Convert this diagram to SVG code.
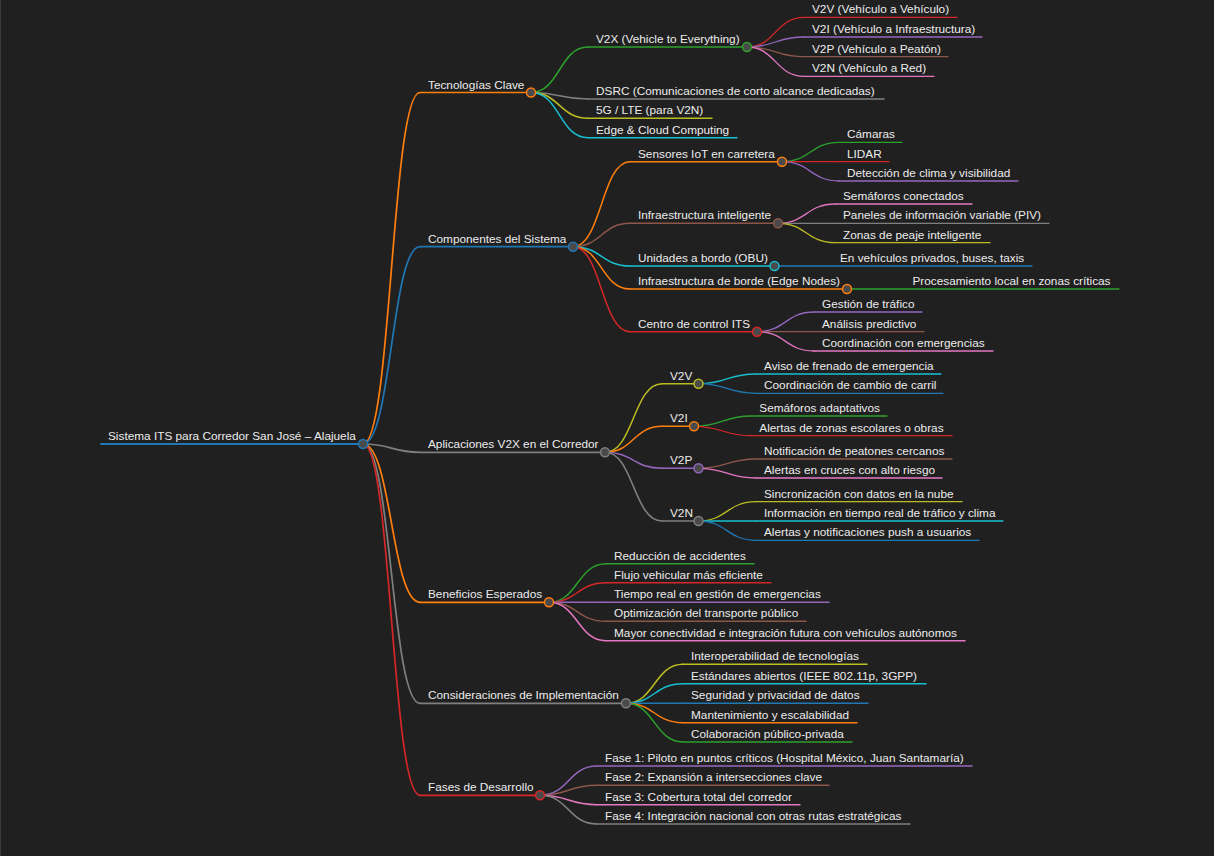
<svg xmlns="http://www.w3.org/2000/svg" width="1214" height="856" viewBox="0 0 1214 856">
<style>
text{font-family:"Liberation Sans",Arial,sans-serif;font-size:11.8px;fill:#ececec;transform:translate(0px,1px)}
path,line{fill:none;stroke-linecap:round}
circle{fill:#4a4a4a;stroke-width:1.5}
.l0{stroke-width:2}.l1{stroke-width:1.7}.l2{stroke-width:1.5}.l3{stroke-width:1.3}
.blue{stroke:#1f77b4}.orange{stroke:#ff7f0e}.green{stroke:#2ca02c}.red{stroke:#d62728}
.purple{stroke:#9467bd}.brown{stroke:#8c564b}.pink{stroke:#e377c2}.grey{stroke:#7f7f7f}
.olive{stroke:#bcbd22}.cyan{stroke:#17becf}
</style>
<rect width="1214" height="856" fill="#202020"/>
<line x1="0.5" y1="0" x2="0.5" y2="856" stroke="#3a3a3a" stroke-width="1"/>
<g id="connectors">
<path class="l1 orange" d="M363,444C391.5,444 391.5,92.5 420,92.5"/>
<path class="l1 blue" d="M363,444C391.5,444 391.5,246.7 420,246.7"/>
<path class="l1 grey" d="M363,444C391.5,444 391.5,452.3 420,452.3"/>
<path class="l1 orange" d="M363,444C391.5,444 391.5,602.3 420,602.3"/>
<path class="l1 grey" d="M363,444C391.5,444 391.5,703.3 420,703.3"/>
<path class="l1 red" d="M363,444C391.5,444 391.5,795.3 420,795.3"/>
<path class="l2 green" d="M531,92.5C559.5,92.5 559.5,47 588,47"/>
<path class="l2 grey" d="M531,92.5C559.5,92.5 559.5,99 588,99"/>
<path class="l2 olive" d="M531,92.5C559.5,92.5 559.5,118.3 588,118.3"/>
<path class="l2 cyan" d="M531,92.5C559.5,92.5 559.5,137.7 588,137.7"/>
<path class="l3 red" d="M747,47C775.5,47 775.5,17.3 804,17.3"/>
<path class="l3 purple" d="M747,47C775.5,47 775.5,37 804,37"/>
<path class="l3 brown" d="M747,47C775.5,47 775.5,56.7 804,56.7"/>
<path class="l3 pink" d="M747,47C775.5,47 775.5,76.3 804,76.3"/>
<path class="l2 orange" d="M573,246.7C601.5,246.7 601.5,161.7 630,161.7"/>
<path class="l2 brown" d="M573,246.7C601.5,246.7 601.5,223.3 630,223.3"/>
<path class="l2 cyan" d="M573,246.7C601.5,246.7 601.5,266 630,266"/>
<path class="l2 orange" d="M573,246.7C601.5,246.7 601.5,289 630,289"/>
<path class="l2 red" d="M573,246.7C601.5,246.7 601.5,331.7 630,331.7"/>
<path class="l3 green" d="M782,161.7C810.5,161.7 810.5,142.3 839,142.3"/>
<path class="l3 red" d="M782,161.7C810.5,161.7 810.5,161.7 839,161.7"/>
<path class="l3 purple" d="M782,161.7C810.5,161.7 810.5,181 839,181"/>
<path class="l3 pink" d="M778,223.3C806.5,223.3 806.5,204 835,204"/>
<path class="l3 grey" d="M778,223.3C806.5,223.3 806.5,223.3 835,223.3"/>
<path class="l3 olive" d="M778,223.3C806.5,223.3 806.5,242.7 835,242.7"/>
<path class="l3 blue" d="M774.5,266L831.5,266"/>
<path class="l3 green" d="M847,289L904,289"/>
<path class="l3 purple" d="M757,331.7C785.5,331.7 785.5,312 814,312"/>
<path class="l3 brown" d="M757,331.7C785.5,331.7 785.5,331.7 814,331.7"/>
<path class="l3 pink" d="M757,331.7C785.5,331.7 785.5,351 814,351"/>
<path class="l2 olive" d="M605,452.3C633.5,452.3 633.5,383.7 662,383.7"/>
<path class="l2 orange" d="M605,452.3C633.5,452.3 633.5,426.3 662,426.3"/>
<path class="l2 purple" d="M605,452.3C633.5,452.3 633.5,468.3 662,468.3"/>
<path class="l2 grey" d="M605,452.3C633.5,452.3 633.5,521 662,521"/>
<path class="l3 cyan" d="M698.5,383.7C727,383.7 727,374 756,374"/>
<path class="l3 blue" d="M698.5,383.7C727,383.7 727,393.3 756,393.3"/>
<path class="l3 green" d="M694,426.3C722.6,426.3 722.6,416 751.3,416"/>
<path class="l3 red" d="M694,426.3C722.6,426.3 722.6,435.7 751.3,435.7"/>
<path class="l3 brown" d="M698.5,468.3C727,468.3 727,459 756,459"/>
<path class="l3 pink" d="M698.5,468.3C727,468.3 727,478 756,478"/>
<path class="l3 olive" d="M698.5,521C727,521 727,501.7 756,501.7"/>
<path class="l3 cyan" d="M698.5,521L756,521"/>
<path class="l3 blue" d="M698.5,521C727,521 727,540.3 756,540.3"/>
<path class="l2 green" d="M549,602.3C577.5,602.3 577.5,563.7 606,563.7"/>
<path class="l2 red" d="M549,602.3C577.5,602.3 577.5,582.7 606,582.7"/>
<path class="l2 purple" d="M549,602.3L606,602.3"/>
<path class="l2 brown" d="M549,602.3C577.5,602.3 577.5,621.3 606,621.3"/>
<path class="l2 pink" d="M549,602.3C577.5,602.3 577.5,640.7 606,640.7"/>
<path class="l2 olive" d="M626,703.3C654.5,703.3 654.5,664.3 683,664.3"/>
<path class="l2 cyan" d="M626,703.3C654.5,703.3 654.5,683.7 683,683.7"/>
<path class="l2 blue" d="M626,703.3L683,703.3"/>
<path class="l2 orange" d="M626,703.3C654.5,703.3 654.5,722.7 683,722.7"/>
<path class="l2 green" d="M626,703.3C654.5,703.3 654.5,742 683,742"/>
<path class="l2 purple" d="M540,795.3C568.5,795.3 568.5,766 597,766"/>
<path class="l2 brown" d="M540,795.3C568.5,795.3 568.5,785.3 597,785.3"/>
<path class="l2 pink" d="M540,795.3C568.5,795.3 568.5,804.7 597,804.7"/>
<path class="l2 grey" d="M540,795.3C568.5,795.3 568.5,824 597,824"/>
</g>
<g id="root"><line class="l0 blue" x1="101" y1="444" x2="363" y2="444"/><text x="108" y="439">Sistema ITS para Corredor San José – Alajuela</text><circle class="blue" cx="363" cy="444" r="4.5"/></g>
<g id="tecnologias"><line class="l1 orange" x1="420" y1="92.5" x2="531" y2="92.5"/><text x="428" y="87.5">Tecnologías Clave</text><circle class="orange" cx="531" cy="92.5" r="4.5"/></g>
<g id="v2x"><line class="l2 green" x1="588" y1="47" x2="747" y2="47"/><text x="596" y="42">V2X (Vehicle to Everything)</text><circle class="green" cx="747" cy="47" r="4.5"/></g>
<g id="v2x-v2v"><line class="l3 red" x1="804" y1="17.3" x2="957" y2="17.3"/><text x="812" y="12.3">V2V (Vehículo a Vehículo)</text></g>
<g id="v2x-v2i"><line class="l3 purple" x1="804" y1="37" x2="982" y2="37"/><text x="812" y="32">V2I (Vehículo a Infraestructura)</text></g>
<g id="v2x-v2p"><line class="l3 brown" x1="804" y1="56.7" x2="948" y2="56.7"/><text x="812" y="51.7">V2P (Vehículo a Peatón)</text></g>
<g id="v2x-v2n"><line class="l3 pink" x1="804" y1="76.3" x2="934" y2="76.3"/><text x="812" y="71.3">V2N (Vehículo a Red)</text></g>
<g id="dsrc"><line class="l2 grey" x1="588" y1="99" x2="884" y2="99"/><text x="596" y="94">DSRC (Comunicaciones de corto alcance dedicadas)</text></g>
<g id="lte"><line class="l2 olive" x1="588" y1="118.3" x2="712" y2="118.3"/><text x="596" y="113.3">5G / LTE (para V2N)</text></g>
<g id="edgecloud"><line class="l2 cyan" x1="588" y1="137.7" x2="737" y2="137.7"/><text x="596" y="132.7">Edge &amp; Cloud Computing</text></g>
<g id="componentes"><line class="l1 blue" x1="420" y1="246.7" x2="573" y2="246.7"/><text x="428" y="241.7">Componentes del Sistema</text><circle class="blue" cx="573" cy="246.7" r="4.5"/></g>
<g id="sensores"><line class="l2 orange" x1="630" y1="161.7" x2="782" y2="161.7"/><text x="638" y="156.7">Sensores IoT en carretera</text><circle class="orange" cx="782" cy="161.7" r="4.5"/></g>
<g id="camaras"><line class="l3 green" x1="839" y1="142.3" x2="902" y2="142.3"/><text x="847" y="137.3">Cámaras</text></g>
<g id="lidar"><line class="l3 red" x1="839" y1="161.7" x2="889" y2="161.7"/><text x="847" y="156.7">LIDAR</text></g>
<g id="clima"><line class="l3 purple" x1="839" y1="181" x2="1018" y2="181"/><text x="847" y="176">Detección de clima y visibilidad</text></g>
<g id="infra"><line class="l2 brown" x1="630" y1="223.3" x2="778" y2="223.3"/><text x="638" y="218.3">Infraestructura inteligente</text><circle class="brown" cx="778" cy="223.3" r="4.5"/></g>
<g id="semaforos-con"><line class="l3 pink" x1="835" y1="204" x2="972" y2="204"/><text x="843" y="199">Semáforos conectados</text></g>
<g id="paneles"><line class="l3 grey" x1="835" y1="223.3" x2="1049" y2="223.3"/><text x="843" y="218.3">Paneles de información variable (PIV)</text></g>
<g id="peaje"><line class="l3 olive" x1="835" y1="242.7" x2="990" y2="242.7"/><text x="843" y="237.7">Zonas de peaje inteligente</text></g>
<g id="obu"><line class="l2 cyan" x1="630" y1="266" x2="774.5" y2="266"/><text x="638" y="261">Unidades a bordo (OBU)</text></g>
<g id="vehiculos"><line class="l3 blue" x1="831.5" y1="266" x2="1032" y2="266"/><text x="840" y="261">En vehículos privados, buses, taxis</text></g>
<g id="obu-c"><circle class="cyan" cx="774.5" cy="266" r="4.5"/></g>
<g id="edgenodes"><line class="l2 orange" x1="630" y1="289" x2="847" y2="289"/><text x="638" y="284">Infraestructura de borde (Edge Nodes)</text></g>
<g id="procesamiento"><line class="l3 green" x1="904" y1="289" x2="1119" y2="289"/><text x="912.5" y="284">Procesamiento local en zonas críticas</text></g>
<g id="edgenodes-c"><circle class="orange" cx="847" cy="289" r="4.5"/></g>
<g id="centro"><line class="l2 red" x1="630" y1="331.7" x2="757" y2="331.7"/><text x="638" y="326.7">Centro de control ITS</text><circle class="red" cx="757" cy="331.7" r="4.5"/></g>
<g id="gestion"><line class="l3 purple" x1="814" y1="312" x2="922" y2="312"/><text x="822" y="307">Gestión de tráfico</text></g>
<g id="analisis"><line class="l3 brown" x1="814" y1="331.7" x2="924" y2="331.7"/><text x="822" y="326.7">Análisis predictivo</text></g>
<g id="coordinacion"><line class="l3 pink" x1="814" y1="351" x2="993" y2="351"/><text x="822" y="346">Coordinación con emergencias</text></g>
<g id="aplicaciones"><line class="l1 grey" x1="420" y1="452.3" x2="605" y2="452.3"/><text x="428" y="447.3">Aplicaciones V2X en el Corredor</text><circle class="grey" cx="605" cy="452.3" r="4.5"/></g>
<g id="a-v2v"><line class="l2 olive" x1="662" y1="383.7" x2="698.5" y2="383.7"/><text x="670" y="378.7">V2V</text><circle class="olive" cx="698.5" cy="383.7" r="4.5"/></g>
<g id="aviso"><line class="l3 cyan" x1="756" y1="374" x2="941" y2="374"/><text x="764" y="369">Aviso de frenado de emergencia</text></g>
<g id="carril"><line class="l3 blue" x1="756" y1="393.3" x2="943" y2="393.3"/><text x="764" y="388.3">Coordinación de cambio de carril</text></g>
<g id="a-v2i"><line class="l2 orange" x1="662" y1="426.3" x2="694" y2="426.3"/><text x="670" y="421.3">V2I</text><circle class="orange" cx="694" cy="426.3" r="4.5"/></g>
<g id="sem-adapt"><line class="l3 green" x1="751.3" y1="416" x2="887" y2="416"/><text x="759.3" y="411">Semáforos adaptativos</text></g>
<g id="zonas-esc"><line class="l3 red" x1="751.3" y1="435.7" x2="952" y2="435.7"/><text x="759.3" y="430.7">Alertas de zonas escolares o obras</text></g>
<g id="a-v2p"><line class="l2 purple" x1="662" y1="468.3" x2="698.5" y2="468.3"/><text x="670" y="463.3">V2P</text><circle class="purple" cx="698.5" cy="468.3" r="4.5"/></g>
<g id="peatones"><line class="l3 brown" x1="756" y1="459" x2="952" y2="459"/><text x="764" y="454">Notificación de peatones cercanos</text></g>
<g id="cruces"><line class="l3 pink" x1="756" y1="478" x2="942" y2="478"/><text x="764" y="473">Alertas en cruces con alto riesgo</text></g>
<g id="a-v2n"><line class="l2 grey" x1="662" y1="521" x2="698.5" y2="521"/><text x="670" y="516">V2N</text></g>
<g id="sincronizacion"><line class="l3 olive" x1="756" y1="501.7" x2="962" y2="501.7"/><text x="764" y="496.7">Sincronización con datos en la nube</text></g>
<g id="informacion"><line class="l3 cyan" x1="756" y1="521" x2="1003" y2="521"/><text x="764" y="516">Información en tiempo real de tráfico y clima</text></g>
<g id="push"><line class="l3 blue" x1="756" y1="540.3" x2="979" y2="540.3"/><text x="764" y="535.3">Alertas y notificaciones push a usuarios</text></g>
<g id="a-v2n-c"><circle class="grey" cx="698.5" cy="521" r="4.5"/></g>
<g id="beneficios"><line class="l1 orange" x1="420" y1="602.3" x2="549" y2="602.3"/><text x="428" y="597.3">Beneficios Esperados</text></g>
<g id="reduccion"><line class="l2 green" x1="606" y1="563.7" x2="754" y2="563.7"/><text x="614" y="558.7">Reducción de accidentes</text></g>
<g id="flujo"><line class="l2 red" x1="606" y1="582.7" x2="771" y2="582.7"/><text x="614" y="577.7">Flujo vehicular más eficiente</text></g>
<g id="tiempo"><line class="l2 purple" x1="606" y1="602.3" x2="829" y2="602.3"/><text x="614" y="597.3">Tiempo real en gestión de emergencias</text></g>
<g id="optimizacion"><line class="l2 brown" x1="606" y1="621.3" x2="806" y2="621.3"/><text x="614" y="616.3">Optimización del transporte público</text></g>
<g id="mayor"><line class="l2 pink" x1="606" y1="640.7" x2="965" y2="640.7"/><text x="614" y="635.7">Mayor conectividad e integración futura con vehículos autónomos</text></g>
<g id="beneficios-c"><circle class="orange" cx="549" cy="602.3" r="4.5"/></g>
<g id="consideraciones"><line class="l1 grey" x1="420" y1="703.3" x2="626" y2="703.3"/><text x="428" y="698.3">Consideraciones de Implementación</text></g>
<g id="interop"><line class="l2 olive" x1="683" y1="664.3" x2="867" y2="664.3"/><text x="691" y="659.3">Interoperabilidad de tecnologías</text></g>
<g id="estandares"><line class="l2 cyan" x1="683" y1="683.7" x2="926" y2="683.7"/><text x="691" y="678.7">Estándares abiertos (IEEE 802.11p, 3GPP)</text></g>
<g id="seguridad"><line class="l2 blue" x1="683" y1="703.3" x2="868" y2="703.3"/><text x="691" y="698.3">Seguridad y privacidad de datos</text></g>
<g id="mantenimiento"><line class="l2 orange" x1="683" y1="722.7" x2="857" y2="722.7"/><text x="691" y="717.7">Mantenimiento y escalabilidad</text></g>
<g id="colaboracion"><line class="l2 green" x1="683" y1="742" x2="852" y2="742"/><text x="691" y="737">Colaboración público-privada</text></g>
<g id="consideraciones-c"><circle class="grey" cx="626" cy="703.3" r="4.5"/></g>
<g id="fases"><line class="l1 red" x1="420" y1="795.3" x2="540" y2="795.3"/><text x="428" y="790.3">Fases de Desarrollo</text><circle class="red" cx="540" cy="795.3" r="4.5"/></g>
<g id="fase1"><line class="l2 purple" x1="597" y1="766" x2="972" y2="766"/><text x="605" y="761">Fase 1: Piloto en puntos críticos (Hospital México, Juan Santamaría)</text></g>
<g id="fase2"><line class="l2 brown" x1="597" y1="785.3" x2="829" y2="785.3"/><text x="605" y="780.3">Fase 2: Expansión a intersecciones clave</text></g>
<g id="fase3"><line class="l2 pink" x1="597" y1="804.7" x2="800" y2="804.7"/><text x="605" y="799.7">Fase 3: Cobertura total del corredor</text></g>
<g id="fase4"><line class="l2 grey" x1="597" y1="824" x2="910" y2="824"/><text x="605" y="819">Fase 4: Integración nacional con otras rutas estratégicas</text></g>
</svg>
